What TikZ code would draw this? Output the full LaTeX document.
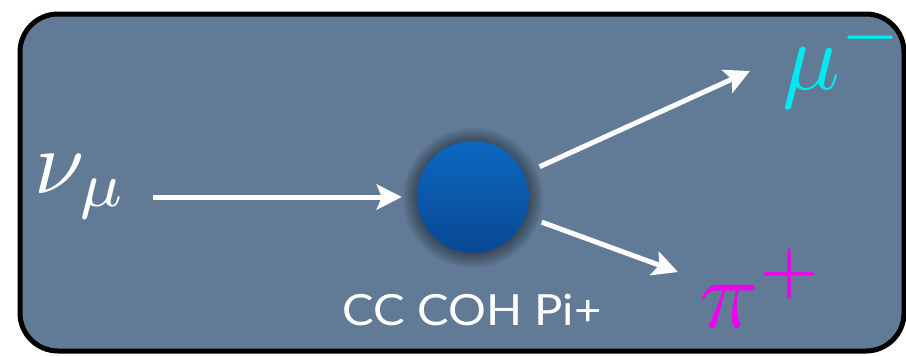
\documentclass[tikz,border=0pt]{standalone}
\usepackage{fontspec}
\newfontfamily\labelfont{Lato}
\usetikzlibrary{arrows.meta,calc}
\definecolor{slate}{RGB}{97,122,149}
\definecolor{muCyan}{RGB}{0,232,240}
\definecolor{piMagenta}{RGB}{240,0,240}
\definecolor{blobTop}{RGB}{12,104,192}
\definecolor{blobBottom}{RGB}{10,72,148}
\begin{document}
\begin{tikzpicture}[x=1pt,y=-1pt,
  track/.style={draw=white, line width=5pt,
    -{Stealth[length=25pt,width=25pt,inset=5pt]}},
  particle/.style={inner sep=0pt, anchor=base west},
  vertexball/.style={circle, minimum size=112pt, inner sep=0pt,
    top color=blobTop, bottom color=blobBottom}]
\useasboundingbox (0,0) rectangle (906,356);
\fill[white] (0,0) rectangle (906,356);
% panel
\draw[line width=5pt, fill=slate, rounded corners=38pt] (20,14) rectangle (904,351);
% soft dark halo around the interaction vertex
\foreach \r in {57,...,70}
  \fill[black, opacity=0.028] (473,198) circle [radius=\r pt];
\node[vertexball] (vtx) at (473,197) {};
% particles (10pt math, scaled up)
\node[particle, text=white, scale=9] (nu) at (33,193) {$\nu_\mu$};
\node[particle, text=muCyan, scale=9.6] (mu) at (781,89) {$\mu^-$};
\node[particle, text=piMagenta, scale=9.8] (pi) at (698,327) {$\pi^+$};
\node[inner sep=0pt, anchor=base, text=white, xscale=1.1] (label) at (472,325)
  {\labelfont\fontsize{43}{47}\selectfont CC COH Pi+};
% track ends
\coordinate (nuStart) at (153,197);
\coordinate (muTip) at (750,71);
\coordinate (piTip) at (678,272);
% tracks
\draw[track, shorten >=15pt] (nuStart) -- (vtx);
\draw[track, shorten <=17pt] (vtx) -- (muTip);
\draw[track, shorten <=17pt] (vtx) -- (piTip);
\end{tikzpicture}
\end{document}
